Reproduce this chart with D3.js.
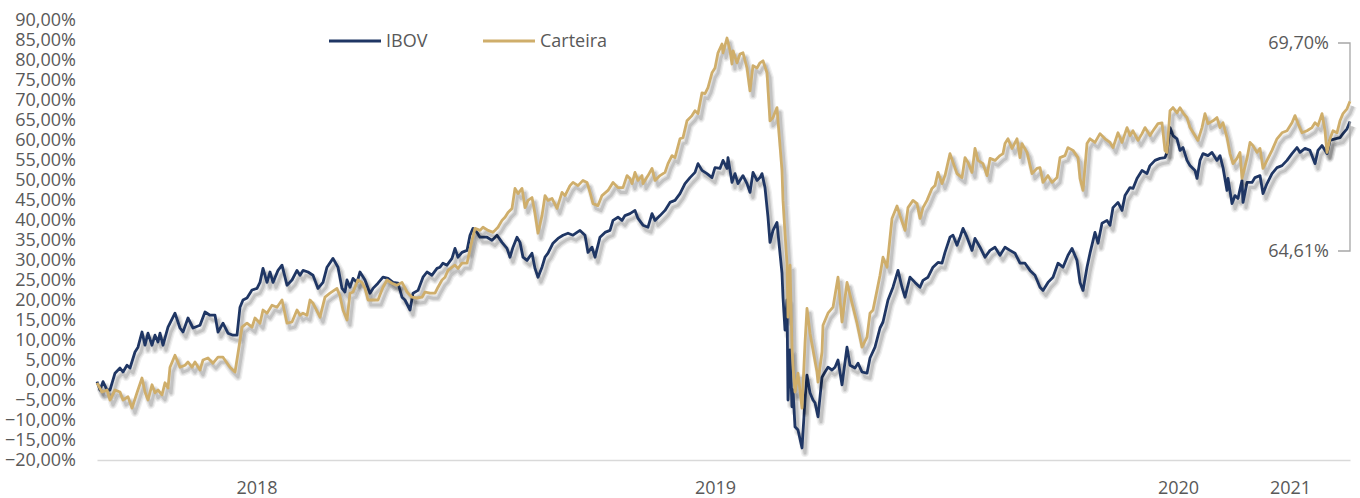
<!DOCTYPE html>
<html>
<head>
<meta charset="utf-8">
<script src="https://cdn.jsdelivr.net/npm/d3@7"></script>
<style>
  body { margin: 0; background: #fff; }
  svg { font-family: "Open Sans", sans-serif; }
</style>
</head>
<body>
<svg width="1360" height="498"></svg>
<script>
// retorno acumulado (%), pares [semana, valor]
var ibov = [[0,-0.4],[0.6,-2.5],[1.2,-0.4],[2,-2.5],[2.6,-2.5],[3.6,1.7],[4.6,3],[5.2,2],[6,3.7],[6.6,3],[7.6,7],[8.2,8.2],[9,12],[9.6,8.7],[10.2,11.7],[11,8.7],[11.6,11.2],[12.2,9.5],[12.6,11.7],[13.2,8.7],[14.2,13.2],[15.6,16.7],[16.6,13],[17.2,12],[18.2,15.5],[19.2,13],[20.6,13.7],[21.6,17],[22.6,16.2],[23.6,16.2],[24.2,12],[25.2,14.2],[26.2,11.7],[27.2,11.2],[28,11.2],[28.6,18.2],[29.2,20],[30,20.5],[31,22.5],[32,22.9],[32.6,24.4],[33.2,27.9],[34,24.4],[34.6,27],[35.2,24.4],[36.2,27.4],[37,28.7],[38,23.7],[39,25],[40,27.4],[40.6,26.2],[41.2,27.4],[42.2,27],[43.2,26.2],[44.2,22.9],[45.2,24.4],[46,28.2],[47.2,30.4],[48.2,28.2],[49,22.9],[49.6,22],[50,25],[50.6,23.2],[51.2,25.4],[52,24.4],[52.6,27],[53.6,25],[54.6,21.7],[55.2,22.9],[56.2,24.2],[57.2,25.7],[58.2,25.4],[59.2,24.4],[60.2,24.2],[61,20.7],[61.6,20],[62.6,17.5],[63.2,21.7],[64.2,22.4],[65.2,25.7],[66,27],[67,26.2],[68,27.9],[68.6,28.2],[69.2,29.2],[70,28.7],[71,30.4],[71.6,32.9],[72.2,30.7],[73,31.9],[74,32.4],[74.6,36.2],[75.2,37.9],[76,36.9],[76.6,35.7],[78,35.7],[79,34.9],[80,36.2],[81,34.4],[82,32.9],[82.6,30.7],[83.2,33.2],[84,35.7],[84.6,34.4],[85.2,30.7],[86,29.9],[87,31.7],[87.6,27.9],[88.2,25.7],[89,28.2],[89.6,30.7],[90.2,31.7],[91.2,34.2],[92.2,35.4],[93.2,36.2],[94.2,36.7],[95.2,36.2],[96,36.9],[96.6,37.4],[97.6,36.2],[98.2,31.9],[99,33.2],[99.6,30.7],[100.6,35.7],[101.6,36.9],[102.6,37.4],[103.2,39.9],[104.2,40.7],[105,39.9],[105.6,41.1],[106.6,41.6],[107.6,42.4],[108.2,40.4],[109.2,38.7],[110.2,38.2],[111,41.6],[111.6,39.9],[112.6,41.1],[113.6,42.4],[114.6,44.4],[115.6,44.9],[116.6,46.6],[117.6,49.1],[118.6,50.6],[119.6,51.9],[120.2,54.1],[121,52.4],[122,51.6],[123,50.6],[123.6,53.1],[124.6,52.9],[125.2,54.9],[126,52.9],[126.2,55.6],[127,49.4],[127.6,51.6],[128.2,49.1],[129.2,51.1],[130,49.1],[130.6,46.9],[131.2,51.9],[132,49.9],[132.6,50.6],[133,51.6],[133.6,48.1],[134.2,40.7],[134.6,34.4],[135.2,37.4],[136,39.4],[136.2,36.7],[137,26.7],[137.2,20.7],[137.6,12.5],[138,20],[138.2,-5],[138.6,7.5],[139,-6.7],[139.2,-2.5],[139.6,-11.7],[140.2,-12.5],[141,-17],[141.6,-5],[142,1.2],[142.6,-3.2],[143.2,-5],[143.6,-5.7],[144.2,-9.2],[145,0.7],[145.6,2],[146.2,3.2],[147,2.5],[147.6,3.2],[148.2,5],[149,-1.2],[150,8.2],[150.6,3.7],[151.6,3],[152.2,4.2],[153,2],[154,1.7],[154.6,5.5],[155.6,8.2],[156.6,13],[157.2,14.5],[158.2,20],[159.2,23.2],[160.2,27.4],[161,23.2],[161.6,20.7],[162.6,25.7],[163.6,24.4],[164.6,23.2],[165.2,24.9],[166.2,25.7],[167.2,28.2],[168.2,29.4],[169,29.2],[169.6,31.9],[170.6,35.7],[171.2,36.2],[172,33.7],[172.6,35.7],[173.2,37.9],[174,35.7],[175,32.4],[175.6,35.4],[176.6,33.2],[177.6,30.7],[178.6,32.4],[179.6,33.2],[180.6,31.2],[181.6,33.2],[182.6,32.4],[183.6,31.7],[184.6,29.2],[185.6,29.2],[186.6,27.4],[187.6,26.2],[188.6,23.2],[189.2,22.4],[190.2,24.4],[191.2,25.7],[192.2,29.2],[193.2,28.2],[194.2,31.2],[195,32.9],[196,29.9],[196.6,24.4],[197.2,22.4],[198,28.2],[198.6,31.7],[199.6,36.9],[200.2,34.2],[201,39.2],[202,39.9],[202.6,38.7],[203.2,43.1],[204.2,44.4],[205,42.4],[205.6,46.1],[206.6,48.1],[207.2,47.9],[208,50.4],[209,52.4],[210,51.6],[210.6,53.6],[211.6,54.9],[212.6,55.4],[213.6,55.6],[214,56.9],[214.6,63.1],[215.2,61.1],[216,60.3],[216.6,57.4],[217.2,58.1],[218,54.9],[218.6,53.6],[219.6,52.4],[220,50.4],[220.6,54.9],[221.2,56.6],[222.2,56.1],[223,56.9],[224,54.9],[224.6,56.1],[225.2,53.1],[226,47.4],[226.2,50.4],[227,44.1],[227.6,46.1],[228.2,45.4],[229,49.9],[229.2,44.4],[230,49.4],[231,49.4],[231.6,50.6],[232.6,51.1],[233.2,46.6],[234,49.1],[235,51.6],[236,53.1],[237,53.6],[238,54.9],[239,56.6],[240,58.1],[240.6,56.9],[241.6,57.9],[242.6,57.4],[243.6,54.1],[244.2,57.4],[245,58.6],[246,56.6],[246.6,59.9],[247.6,60.3],[248.6,60.6],[249.2,61.6],[250,62.8],[250.6,64.61]];

var carteira = [[0,-0.7],[1,-3],[2,-2.5],[2.6,-5],[3.6,-2.5],[4.6,-3],[5.2,-5],[6.2,-4.2],[7,-7],[8,-3.2],[9,0.5],[9.6,-3],[10.2,-5],[11,-1.2],[11.6,-3.2],[12.2,-2.5],[13,-3.7],[13.6,-0.7],[14.2,-2],[14.6,3.2],[15.6,6.2],[16.6,3.2],[17.6,3.7],[18.2,4.5],[19,3.2],[19.6,4.5],[20.6,2.5],[21.2,5],[22.2,5.5],[23.2,4.2],[24.2,5.7],[25.2,5.7],[26.6,3.2],[27.6,2],[28.2,6.7],[29,13.2],[30,14.2],[31,13.2],[31.6,15.5],[32.6,14.2],[33.2,17.5],[34,16.7],[35,18.7],[36,18.2],[37,20],[38,14.2],[39,14.5],[40,17.5],[40.6,16.2],[41.2,16.7],[42,16.2],[42.6,20],[43.2,19.2],[44.6,15.7],[45.6,20.7],[46.6,21.7],[48,22.9],[48.6,21],[49.2,17.5],[50,15],[50.6,21.7],[51.2,22],[52.2,25],[53,24.4],[53.6,22.9],[54.2,20],[55.2,20],[56.2,20],[57.2,23.2],[58,25],[59,24.2],[60,23.7],[61,24.4],[62,22],[63,20.7],[64,20.5],[65,20.7],[65.6,22],[66.6,21.7],[67.6,21.7],[68.2,23.2],[69,25],[69.6,25.7],[70.2,27.4],[71,28.2],[71.6,28.7],[72.2,27.9],[73,29.2],[74,29.2],[75,34.9],[75.6,37.9],[76.6,37.4],[77.2,38.2],[78.2,37.4],[79.2,36.9],[80.2,38.2],[81,39.9],[81.6,40.7],[82.2,41.9],[83,42.9],[83.6,47.9],[84.2,46.6],[85,47.9],[85.6,43.1],[86.2,44.9],[87,45.6],[87.6,41.6],[88.2,36.7],[89,41.1],[89.6,46.1],[90.2,44.9],[91,45.4],[92,42.9],[93,46.9],[93.6,46.1],[94.6,48.6],[95.2,49.4],[96.2,48.6],[97.2,49.9],[98,49.4],[98.6,46.9],[99.2,44.1],[100.2,43.6],[101,46.1],[102.2,47.4],[103.2,49.4],[104.2,48.1],[105.2,48.1],[106,51.1],[106.6,50.4],[107,49.1],[107.6,51.9],[108.2,49.9],[109,51.1],[109.2,49.1],[110.2,51.1],[111,52.9],[111.6,49.9],[112.6,51.1],[113.6,51.9],[114.2,54.1],[115,56.1],[115.6,55.6],[116.6,60.3],[117.2,60.6],[118,64.8],[119,66.1],[119.6,67.3],[120.2,66.6],[121,71.8],[121.6,71.6],[122.2,73.1],[123,76.8],[123.6,78],[124.2,81.8],[125,84],[125.2,81.8],[126,85.5],[126.6,82.3],[127,79],[127.2,82.3],[128,79.3],[128.6,81.5],[129.2,81.8],[130,78],[130.6,72.3],[131.2,78.6],[132,78],[132.6,79.3],[133.2,79.8],[134,76.8],[134.6,64.8],[135.2,65.6],[136,68.1],[136.2,64.8],[137,52.4],[137.2,44.9],[137.6,36.7],[138,29.2],[138.2,15.7],[138.6,28.7],[139,8.2],[139.2,3.2],[139.6,-3],[140.2,1.7],[141,-7],[141.6,9.2],[142,17.9],[142.6,11.7],[143.2,7.5],[144,2],[144.2,-0.5],[145,7],[145.2,13.7],[146.2,16.7],[147.2,18.2],[148.2,25.7],[149,14.5],[150,24.4],[151,19.2],[152,14.2],[153,8.2],[154,10.7],[154.6,16.7],[155.2,17.5],[156,22.4],[156.6,26.2],[157.2,30.7],[158,28.2],[159,40.4],[160,43.5],[160.6,41.1],[161.6,37.4],[162.2,43.1],[163.2,44.9],[164,44.1],[164.6,40.4],[165.2,43.1],[166,44.9],[167,47.9],[167.6,48.6],[168.2,51.9],[169,49.1],[169.6,51.1],[170.6,56.6],[171.2,54.4],[172,51.6],[173,50.6],[173.6,55.6],[174.2,54.4],[175,51.9],[175.6,57.9],[176.2,54.9],[177.2,54.1],[178,51.1],[178.6,55.4],[179.6,54.9],[180.6,56.1],[181.2,56.6],[181.6,59.1],[182.2,60.3],[183,57.9],[184,60.3],[184.6,55.6],[185,59.1],[186,56.9],[187,51.6],[188,52.9],[188.6,53.1],[189.2,49.4],[190.2,51.1],[191,49.4],[192,50.6],[192.6,55.6],[193.6,56.1],[194.2,58.1],[195.2,57.4],[196.2,55.6],[196.6,50.4],[197.2,47.4],[198,59.1],[198.6,60.3],[199.6,59.4],[200.6,61.6],[201.6,60.3],[202.6,59.4],[203.2,58.1],[204.2,61.8],[205,59.4],[206,63.1],[206.6,61.1],[207.2,62.3],[208.2,59.9],[209,61.6],[209.6,63.1],[210.6,61.1],[211.2,62.3],[212.2,64.1],[213,64.3],[213.6,57.4],[214,56.9],[214.6,67.3],[215.2,68.1],[216,66.8],[216.6,68.1],[217.2,66.8],[218,65.6],[218.6,63.1],[219.6,61.1],[220.2,59.9],[221,63.1],[221.6,66.6],[222.2,64.1],[223.2,64.8],[224,65.6],[224.6,63.1],[225.2,64.3],[226,60.6],[226.6,56.6],[227.2,54.1],[228,55.4],[228.6,56.9],[229,50.4],[230,55.4],[230.6,59.4],[231.2,58.6],[232,56.9],[232.6,57.9],[233.2,52.9],[234,54.9],[235,57.4],[236,60.3],[237,61.8],[238,62.3],[239,64.3],[239.6,66.1],[240.2,64.1],[241,61.8],[242,62.3],[243,63.1],[243.6,64.3],[244.2,63.6],[245,66.6],[245.6,62.3],[246,56.9],[246.6,60.3],[247.2,62.3],[248,61.8],[248.6,64.8],[249.2,66.6],[250,67.8],[250.6,69.7]];

var anos = ['2018', '2019', '2020', '2021'];
var anoSemana = [31.9, 123.6, 216.2, 238.6];
var yTicks = d3.range(-20, 91, 5);
var series = ['IBOV', 'Carteira'];
var colors = ['#1f3664', '#cfae6b'];

var width = 1360;
var height = 498;
var margin = { top: 20, bottom: 38, left: 97, right: 10 };

var ptBR = d3.formatLocale({ decimal: ',', thousands: '.', grouping: [3], currency: ['R$', ''] });
var fmt = ptBR.format('.2f');
var pct = v => fmt(v) + '%';

var svg = d3.select('svg');

var xScale = d3.scaleLinear().domain([0, 250.6]).range([margin.left, width - margin.right]);
var yScale = d3.scaleLinear().domain([-20, 90]).range([height - margin.bottom, margin.top]);

// y axis labels
var yAxis = d3.axisLeft(yScale).tickValues(yTicks).tickFormat(pct).tickSize(0).tickPadding(3);
var gy = svg.append('g').attr('transform', 'translate(79,0)').call(yAxis);
gy.select('.domain').remove();
gy.selectAll('text').attr('font-size', 18).attr('fill', '#595959').attr('font-family', '"Open Sans", sans-serif');

// x axis
var xAxis = d3.axisBottom(xScale).tickValues(anoSemana)
  .tickFormat((d, i) => anos[i]).tickSize(0).tickSizeOuter(0).tickPadding(21);
var gx = svg.append('g').attr('transform', 'translate(0,' + yScale(-20) + ')').call(xAxis);
gx.select('.domain').attr('stroke', '#d9d9d9').attr('stroke-width', 1.5);
gx.selectAll('text').attr('font-size', 18).attr('fill', '#595959').attr('font-family', '"Open Sans", sans-serif');

// lines; soft grey shadow built from wide faint strokes offset below-right
var line = d3.line().x(d => xScale(d[0])).y(d => yScale(d[1]));
var sombra = [{ w: 8, o: 0.06 }, { w: 5.5, o: 0.08 }, { w: 3, o: 0.12 }];
[ibov, carteira].forEach((data, i) => {
  sombra.forEach(s => {
    svg.append('path').datum(data)
      .attr('d', line)
      .attr('transform', 'translate(3,5)')
      .attr('fill', 'none')
      .attr('stroke', '#000')
      .attr('stroke-opacity', s.o)
      .attr('stroke-width', s.w)
      .attr('stroke-linejoin', 'round');
  });
  svg.append('path').datum(data)
    .attr('d', line)
    .attr('fill', 'none')
    .attr('stroke', colors[i])
    .attr('stroke-width', 2.8)
    .attr('stroke-linejoin', 'round');
});

// legend
var legX = [329, 483];
series.forEach((s, i) => {
  var g = svg.append('g').attr('transform', 'translate(' + legX[i] + ',41)');
  g.append('line').attr('x1', 0).attr('x2', 52).attr('y1', 0).attr('y2', 0)
    .attr('stroke', colors[i]).attr('stroke-width', 2.8);
  g.append('text').attr('x', 57).attr('y', 0).attr('dy', '0.35em')
    .attr('font-size', 18).attr('fill', '#595959').text(s);
});

// end labels with leader lines
var lastC = carteira[carteira.length - 1];
var lastI = ibov[ibov.length - 1];
var endX = xScale(lastC[0]);
var labels = [
  { v: lastC[1], ly: 43 },
  { v: lastI[1], ly: 251 }
];
labels.forEach(l => {
  svg.append('path')
    .attr('d', 'M' + (endX - 12) + ',' + l.ly + 'H' + endX + 'V' + yScale(l.v))
    .attr('fill', 'none').attr('stroke', '#a6a6a6').attr('stroke-width', 1.3);
  svg.append('text').attr('x', endX - 21).attr('y', l.ly).attr('dy', '0.35em')
    .attr('text-anchor', 'end').attr('font-size', 18).attr('fill', '#595959')
    .text(pct(l.v));
});
</script>
</body>
</html>
